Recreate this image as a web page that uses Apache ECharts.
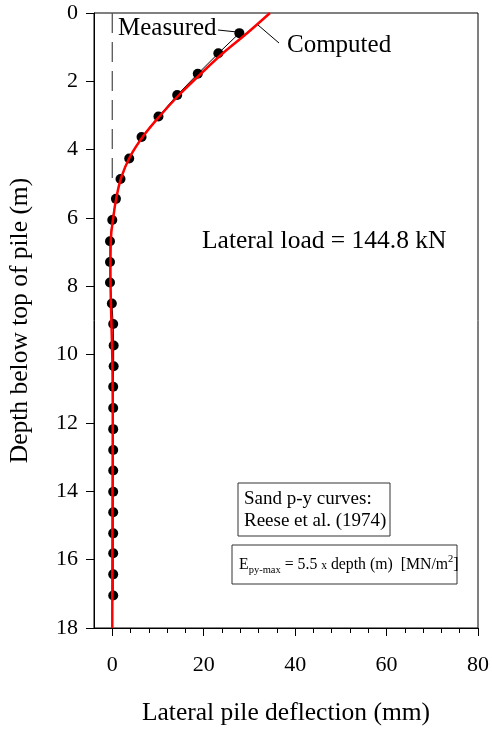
<!DOCTYPE html>
<html>
<head>
<meta charset="utf-8">
<script src="https://cdn.jsdelivr.net/npm/echarts@6/dist/echarts.min.js"></script>
<style>
html,body{margin:0;padding:0;background:#fff;}
#chart{width:492px;height:729px;}
</style>
</head>
<body>
<div id="chart"></div>
<script>
// ---- data ----
var measuredDepth = [0.59, 1.18, 1.78, 2.40, 3.03, 3.63, 4.26, 4.86, 5.44, 6.06, 6.68, 7.29, 7.89, 8.50, 9.10, 9.73, 10.34, 10.94, 11.56, 12.18, 12.79, 13.39, 14.01, 14.61, 15.23, 15.81, 16.43, 17.05];
var measuredDefl  = [27.8, 23.2, 18.7, 14.2, 10.1, 6.4, 3.7, 1.8, 0.8, 0.0, -0.5, -0.5, -0.5, -0.1, 0.2, 0.3, 0.3, 0.2, 0.2, 0.2, 0.2, 0.2, 0.2, 0.2, 0.2, 0.2, 0.2, 0.2];
var computedDepth = [0, 0.6, 1.2, 1.8, 2.4, 3.0, 3.6, 4.2, 4.8, 5.4, 6.0, 6.6, 7.5, 8.5, 9.5, 10.5, 12, 14, 16, 18];
var computedDefl  = [34.5, 29.4, 24.0, 19.2, 14.6, 10.5, 6.8, 3.9, 2.0, 0.9, 0.2, -0.3, -0.4, -0.3, -0.1, 0.05, 0.1, 0.05, 0.02, 0];
var referenceDepth = [0, 5];
var referenceDefl = [0, 0];
var xTickLabels = ['0', '20', '40', '60', '80'];
var yTickLabels = ['0', '2', '4', '6', '8', '10', '12', '14', '16', '18'];

var xMin = -4, xMax = 80, yMin = 0, yMax = 18;
var FONT = '"Liberation Serif", "Times New Roman", serif';

// ---- layout ----
var W = 492, H = 729;
var gLeft = 94, gRight = 14, gTop = 13, gBottom = 101;
var plotW = W - gLeft - gRight;
var zeroX = gLeft + (0 - xMin) / (xMax - xMin) * plotW;

function pairs(xs, ys) { return xs.map(function (x, i) { return [x, ys[i]]; }); }

var chart = echarts.init(document.getElementById('chart'), null, {renderer: 'canvas'});

var mctx = document.createElement('canvas').getContext('2d');
function tw(t, size) { mctx.font = size + 'px ' + FONT; return mctx.measureText(t).width; }
function composed(x0, yc, pieces) {
  var out = [], x = x0;
  pieces.forEach(function (p) {
    out.push({type: 'text', style: {text: p[0], x: x, y: yc + (p[2] || 0), font: p[1] + 'px ' + FONT, fill: '#000', textAlign: 'left', textVerticalAlign: 'middle', align: 'left', verticalAlign: 'middle'}});
    x += tw(p[0], p[1]);
  });
  return out;
}
function txt(t, x, y, size, align) {
  return {type: 'text', style: {text: t, x: x, y: y, font: size + 'px ' + FONT, fill: '#000', textAlign: align || 'left', textVerticalAlign: 'middle', align: align || 'left', verticalAlign: 'middle'}};
}

var graphics = [];
graphics.push({type: 'line', shape: {x1: 218, y1: 30, x2: 237, y2: 32}, style: {stroke: '#000', lineWidth: 1}});
graphics.push({type: 'line', shape: {x1: 258, y1: 25, x2: 279, y2: 43}, style: {stroke: '#000', lineWidth: 1}});
graphics.push(txt('Measured', 118, 28, 25));
graphics.push(txt('Computed', 287, 45, 25));
graphics.push(txt('Lateral load = 144.8 kN', 202, 241, 25.5));
// box 1
graphics.push({type: 'rect', shape: {x: 238, y: 483, width: 152, height: 53}, style: {fill: '#fff', stroke: '#333', lineWidth: 1}});
graphics.push(txt('Sand p-y curves:', 244, 499, 19));
graphics.push(txt('Reese et al. (1974)', 244, 521, 19));
// box 2
graphics.push({type: 'rect', shape: {x: 232, y: 545, width: 225, height: 39}, style: {fill: '#fff', stroke: '#333', lineWidth: 1}});
composed(239, 565, [
  ['E', 15.8, 0], ['py-max', 10.5, 5], [' = 5.5 ', 15.8, 0], ['x', 11.5, 1], [' depth (m)  [MN/m', 15.8, 0], ['2', 10.5, -6], [']', 15.8, 0]
]).forEach(function (g) { graphics.push(g); });

var option = {
  animation: false,
  backgroundColor: '#fff',
  grid: [
    {left: gLeft, right: gRight, top: gTop, bottom: gBottom, show: true, borderColor: '#000', borderWidth: 1, backgroundColor: 'transparent', containLabel: false, outerBoundsMode: 'none'},
    {left: zeroX, right: gRight, top: gTop, bottom: gBottom, show: false, containLabel: false, outerBoundsMode: 'none'}
  ],
  xAxis: [
    {type: 'value', gridIndex: 0, min: xMin, max: xMax, position: 'bottom',
     axisLine: {show: true, onZero: false, lineStyle: {color: '#000', width: 1}},
     axisTick: {show: false}, axisLabel: {show: false}, splitLine: {show: false},
     name: 'Lateral pile deflection (mm)', nameLocation: 'middle', nameGap: 72,
     nameTextStyle: {fontFamily: FONT, fontSize: 25.5, color: '#000'}},
    {type: 'value', gridIndex: 1, min: 0, max: 80, interval: 20, position: 'bottom',
     axisLine: {show: false, onZero: false},
     axisTick: {show: true, length: 8, lineStyle: {color: '#000', width: 1}},
     minorTick: {show: true, splitNumber: 5, length: 5, lineStyle: {color: '#000', width: 1}},
     axisLabel: {show: true, margin: 26, fontFamily: FONT, fontSize: 22, color: '#000',
       formatter: function (v) { var i = Math.round(v / 20); return xTickLabels[i] !== undefined ? xTickLabels[i] : ''; }},
     splitLine: {show: false}, minorSplitLine: {show: false}}
  ],
  yAxis: [
    {type: 'value', gridIndex: 0, min: yMin, max: yMax, interval: 2, inverse: true,
     axisLine: {show: true, onZero: false, lineStyle: {color: '#000', width: 1}},
     axisTick: {show: true, length: 8, inside: false, lineStyle: {color: '#000'}},
     axisLabel: {margin: 16, fontFamily: FONT, fontSize: 22, color: '#000',
       formatter: function (v) { var i = Math.round(v / 2); return yTickLabels[i] !== undefined ? yTickLabels[i] : ''; }},
     splitLine: {show: false},
     name: 'Depth below top of pile (m)', nameLocation: 'middle', nameGap: 61, nameRotate: 90,
     nameTextStyle: {fontFamily: FONT, fontSize: 25.5, color: '#000'}},
    {type: 'value', gridIndex: 1, min: yMin, max: yMax, inverse: true, show: false}
  ],
  series: [
    {type: 'line', name: 'ref', xAxisIndex: 0, yAxisIndex: 0, data: pairs(referenceDefl, referenceDepth),
     symbol: 'none', lineStyle: {color: '#555', width: 1.3, type: [20, 9]}, z: 1},
    {type: 'line', name: 'Measured', xAxisIndex: 0, yAxisIndex: 0, data: pairs(measuredDefl, measuredDepth),
     symbol: 'circle', symbolSize: 10, itemStyle: {color: '#000'}, lineStyle: {color: '#000', width: 1}, z: 2},
    {type: 'line', name: 'Computed', xAxisIndex: 0, yAxisIndex: 0, data: pairs(computedDefl, computedDepth),
     symbol: 'none', smooth: 0.4, lineStyle: {color: '#ff0000', width: 2.5}, z: 3, clip: true}
  ],
  graphic: graphics
};
chart.setOption(option);
</script>
</body>
</html>
